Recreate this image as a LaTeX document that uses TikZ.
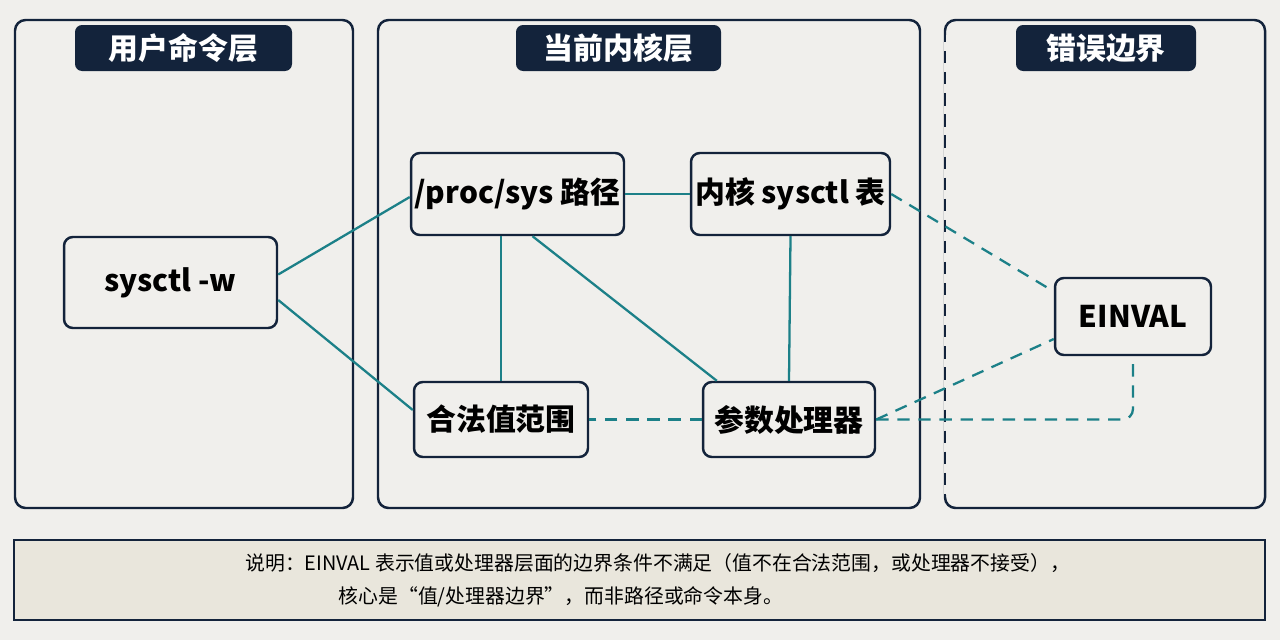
\documentclass[tikz,border=0pt]{standalone}
\usepackage{fontspec}
\setmainfont{Noto Sans CJK SC}
\usetikzlibrary{positioning}
\definecolor{navy}{HTML}{13233B}
\definecolor{teal}{HTML}{1C8088}
\definecolor{paper}{HTML}{F0EFEC}
\definecolor{note}{HTML}{E9E6DC}
\tikzset{
  panel/.style={draw=navy, line width=1.4pt, rounded corners=6pt},
  tab/.style={text=white, font=\bfseries\fontsize{17}{20}\selectfont},
  box/.style={draw=navy, line width=1.4pt, rounded corners=5pt, fill=paper, font=\bfseries\fontsize{17}{20}\selectfont, inner sep=0pt},
  link/.style={draw=teal, line width=1.3pt},
  weak/.style={link, dashed, dash pattern=on 7pt off 5pt}
}
\begin{document}
\begin{tikzpicture}[x=0.02cm,y=-0.02cm]
\fill[paper] (0,0) rectangle (1280,640);
\useasboundingbox (0,0) rectangle (1280,640);

% panels
\draw[panel] (15,20) rectangle (353,508);
\draw[panel] (378,20) rectangle (920,508);
\draw[panel] (945,508) -- (945,20) -- (1265,20) -- (1265,508) -- cycle;
\fill[paper] (943.5,35) rectangle (946.5,495);
\draw[navy, line width=1.4pt, dashed, dash pattern=on 7pt off 5pt] (945,30) -- (945,498);
\fill[navy, rounded corners=4pt] (75,25) rectangle (292,71);
\fill[navy, rounded corners=4pt] (516,25) rectangle (721,71);
\fill[navy, rounded corners=4pt] (1016,25) rectangle (1196,71);
\node[tab] (tuser) at (183.5,48) {用户命令层};
\node[tab] (tkern) at (618.5,48) {当前内核层};
\node[tab] (terr) at (1106,48) {错误边界};

% nodes
\node[box, minimum width=4.26cm, minimum height=1.82cm] (cmd) at (170.5,282.5) {sysctl -w};
\node[box, minimum width=4.26cm, minimum height=1.64cm] (path) at (517.5,194) {/proc/sys 路径};
\node[box, minimum width=3.98cm, minimum height=1.64cm] (table) at (790.5,194) {内核 sysctl 表};
\node[box, minimum width=3.48cm, minimum height=1.5cm] (range) at (501,419.5) {合法值范围};
\node[box, minimum width=3.44cm, minimum height=1.5cm] (handler) at (789,419.5) {参数处理器};
\node[box, minimum width=3.12cm, minimum height=1.54cm] (einval) at (1133,316.5) {EINVAL};

% links
\draw[link] (cmd.east) ++(0,-8) coordinate (c1) -- (path.west |- 0,197) coordinate (p1);
\draw[link] (range.west |- 0,410) coordinate (r1) -- ([yshift=-0.35cm]cmd.east);
\draw[link] (path.south -| range.north) -- (range.north);
\draw[link] ([xshift=-0.2cm]handler.north west) ++(0.5cm,0) coordinate (h1) -- ([xshift=0.3cm]path.south);
\draw[link] (path.east) -- (table.west);
\draw[link] (table.south) -- (handler.north);
\draw[weak] (handler.west) -- (range.east);
\draw[weak] (table.east) -- ([yshift=0.5cm]einval.west);
\draw[weak] (handler.east) -- ([yshift=-0.45cm]einval.west);
\draw[weak, rounded corners=6pt] (handler.east) -- (einval.south |- handler.east) -- (einval.south);

% note
\draw[navy, line width=1pt, fill=note] (14,540) rectangle (1265,620);
\node[font=\fontsize{11.3}{19}\selectfont, align=left, anchor=north west, inner sep=0pt] (txt) at (245,553)
  {说明：EINVAL 表示值或处理器层面的边界条件不满足（值不在合法范围，或处理器不接受），\\
   \hspace{4.7em}核心是“值/处理器边界”，而非路径或命令本身。};
\end{tikzpicture}
\end{document}
